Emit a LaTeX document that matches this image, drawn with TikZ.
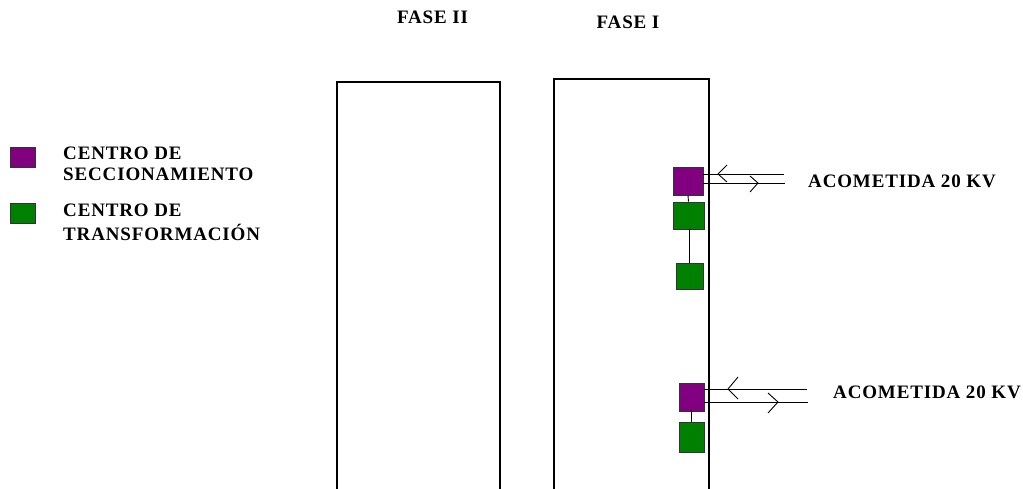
\documentclass[tikz,border=0pt]{standalone}
\usepackage{fontspec}
\setmainfont{Liberation Serif}
\newfontfamily\spaced[LetterSpace=4.5]{Liberation Serif}
\definecolor{purp}{HTML}{800080}
\definecolor{grn}{HTML}{008000}
\begin{document}
\begin{tikzpicture}[x=1pt,y=-1pt,
  lbl/.style={font=\spaced\bfseries\fontsize{19}{21}\selectfont, inner sep=0pt, anchor=west},
  ttl/.style={font=\spaced\bfseries\fontsize{19}{21}\selectfont, inner sep=0pt},
  cs/.style={draw=black!80, line width=0.9pt, fill=purp, inner sep=0pt},
  ct/.style={draw=black!80, line width=0.9pt, fill=grn, inner sep=0pt},
  wall/.style={line width=1.2pt},
  wire/.style={line width=0.9pt}]
\useasboundingbox (0,0) rectangle (1023,488);
% titles
\node[ttl] (f2) at (432.5,17) {FASE II};
\node[ttl] (f1) at (628,22) {FASE I};
% buildings
\draw[wall] (337,490) -- (337,82) -- (500,82) -- (500,490);
\draw[wall] (554,490) -- (554,79) -- (709,79) -- (709,490);
% legend
\node[cs, minimum width=25pt, minimum height=20pt] (lcs) at (22.5,157) {};
\node[ct, minimum width=25pt, minimum height=20pt] (lct) at (22.5,213) {};
\node[lbl] (l1a) at (63,153) {CENTRO DE};
\node[lbl] (l1b) at (63,174) {SECCIONAMIENTO};
\node[lbl] (l2a) at (63,210) {CENTRO DE};
\node[lbl] (l2b) at (63,232) {TRANSFORMACIÓN};
% top group
\node[cs, minimum width=30pt, minimum height=28pt] (s1) at (688,181) {};
\node[ct, minimum width=31pt, minimum height=27pt] (t1) at (688.5,215.5) {};
\node[ct, minimum width=27pt, minimum height=26pt] (t2) at (689.5,276) {};
\draw[wire] (s1.south) -- (t1.north);
\draw[wire] (t1.south -| t2.north) -- (t2.north);
\coordinate (e1a) at (784,174);
\coordinate (e1b) at (785,183);
\draw[wire] (s1.east |- e1a) -- (e1a);
\draw[wire] (s1.east |- e1b) -- (e1b);
\draw[wire] (727,165) -- (718,174) -- (727,182);
\draw[wire] (750,176) -- (758,183) -- (750,192);
\node[lbl] (a1) at (808,181) {ACOMETIDA 20 KV};
% bottom group
\node[cs, minimum width=25pt, minimum height=28pt] (s2) at (691.5,397) {};
\node[ct, minimum width=25pt, minimum height=30pt] (t3) at (691.5,437) {};
\draw[wire] (s2.south) -- (t3.north);
\coordinate (e2a) at (807,389);
\coordinate (e2b) at (808,402);
\draw[wire] (s2.east |- e2a) -- (e2a);
\draw[wire] (s2.east |- e2b) -- (e2b);
\draw[wire] (738,377) -- (728,389) -- (738,399);
\draw[wire] (768,393) -- (778,402) -- (768,413);
\node[lbl] (a2) at (833,392) {ACOMETIDA 20 KV};
\end{tikzpicture}
\end{document}
